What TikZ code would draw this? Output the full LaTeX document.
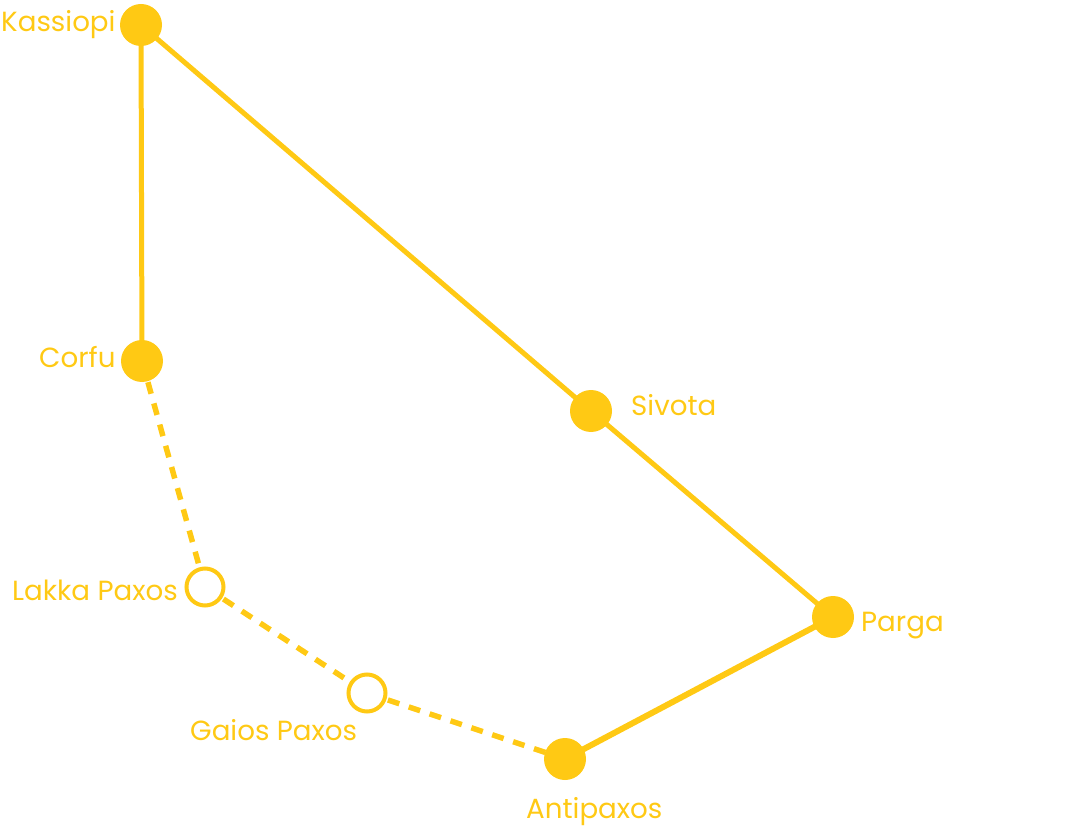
\documentclass[tikz,border=0pt]{standalone}
\usepackage{fontspec}
\setmainfont{Poppins}
\definecolor{gold}{HTML}{FFC914}
\tikzset{
  stop/.style={circle, fill=gold, minimum size=42pt, inner sep=0pt, outer sep=0pt},
  hollow/.style={circle, draw=gold, line width=4pt, fill=white, minimum size=37pt, inner sep=0pt, outer sep=0pt},
  route/.style={draw=gold, line width=5pt},
  ferry/.style={draw=gold, line width=5.5pt, dash pattern=on 12pt off 10pt},
  lbl/.style={text=gold, font=\fontsize{27.7}{32}\selectfont, inner sep=0pt, anchor=base west}
}
\begin{document}
\begin{tikzpicture}[x=1pt,y=-1pt]
\useasboundingbox (0,0) rectangle (1090,834);
\coordinate (kc) at (141,25);
\coordinate (cc) at (142,361);
\coordinate (sc) at (591,411);
\coordinate (pc) at (833,617);
\coordinate (ac) at (565,759);
\coordinate (lc) at (205,587);
\coordinate (gc) at (367,693);
% routes
\draw[route] (kc) -- (cc);
\draw[route] (kc) -- (sc) -- (pc);
\draw[route, line width=6pt] (pc) -- (ac);
\draw[ferry] (cc) -- (lc);
\draw[ferry] (lc) -- (gc);
\draw[ferry] (gc) -- (ac);
% stops
\node[stop] (kassiopi) at (kc) {};
\node[stop] (corfu) at (cc) {};
\node[stop] (sivota) at (sc) {};
\node[stop] (parga) at (pc) {};
\node[stop] (antipaxos) at (ac) {};
\node[hollow] (lakka) at (lc) {};
\node[hollow] (gaios) at (gc) {};
% labels
\node[lbl] (tk) at (1,32) {Kassiopi};
\node[lbl] (tc) at (39,367) {Corfu};
\node[lbl] (ts) at (631,415) {Sivota};
\node[lbl] (tp) at (861,631) {Parga};
\node[lbl] (ta) at (526,818) {Antipaxos};
\node[lbl] (tl) at (12,600) {Lakka Paxos};
\node[lbl] (tg) at (190,740) {Gaios Paxos};
\end{tikzpicture}
\end{document}
